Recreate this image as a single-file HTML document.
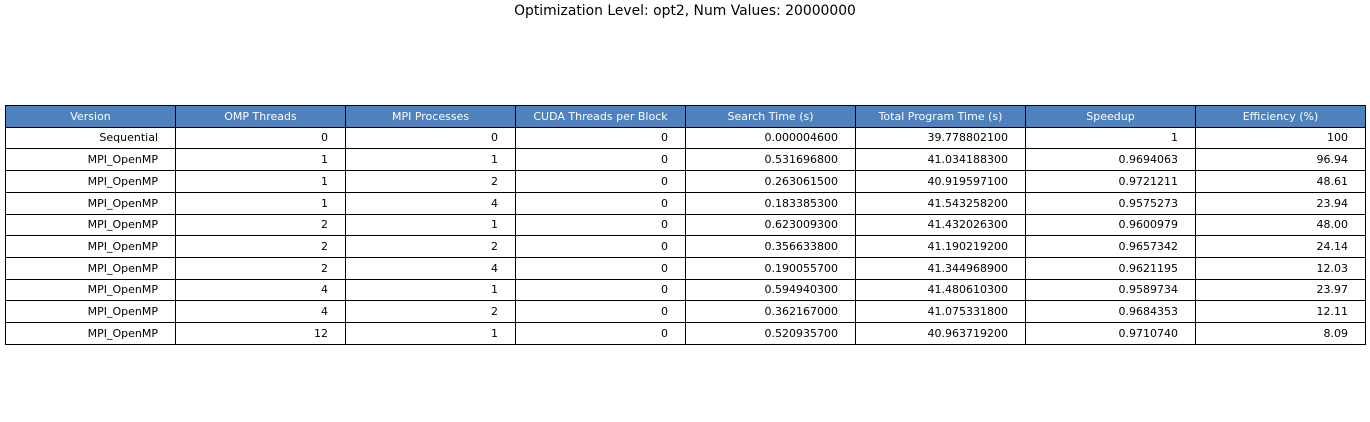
<!DOCTYPE html>
<html><head><meta charset="utf-8"><style>
body{margin:0;width:1370px;height:422px;background:#fff;font-family:"DejaVu Sans","Liberation Sans",sans-serif;position:relative;overflow:hidden}
#title{position:absolute;left:0;width:1370px;top:3px;text-align:center;font-size:13.9px;color:#000}
.c{position:absolute;box-sizing:border-box;border:1px solid #000;font-size:11px;line-height:20px;white-space:nowrap;color:#000}
.h{background:#4f81bd;color:#fff;text-align:center}
.d{text-align:right;padding-right:17px}
</style></head><body>
<div id="title">Optimization Level: opt2, Num Values: 20000000</div>
<div id="tbl"></div>
<script>
const headers=["Version","OMP Threads","MPI Processes","CUDA Threads per Block","Search Time (s)","Total Program Time (s)","Speedup","Efficiency (%)"];
const versions=["Sequential","MPI_OpenMP","MPI_OpenMP","MPI_OpenMP","MPI_OpenMP","MPI_OpenMP","MPI_OpenMP","MPI_OpenMP","MPI_OpenMP","MPI_OpenMP"];
const ompThreads=["0","1","1","1","2","2","2","4","4","12"];
const mpiProcs=["0","1","2","4","1","2","4","1","2","1"];
const cudaThreads=["0","0","0","0","0","0","0","0","0","0"];
const searchTimes=["0.000004600","0.531696800","0.263061500","0.183385300","0.623009300","0.356633800","0.190055700","0.594940300","0.362167000","0.520935700"];
const totalTimes=["39.778802100","41.034188300","40.919597100","41.543258200","41.432026300","41.190219200","41.344968900","41.480610300","41.075331800","40.963719200"];
const speedups=["1","0.9694063","0.9721211","0.9575273","0.9600979","0.9657342","0.9621195","0.9589734","0.9684353","0.9710740"];
const efficiencies=["100","96.94","48.61","23.94","48.00","24.14","12.03","23.97","12.11","8.09"];
const cols=[versions,ompThreads,mpiProcs,cudaThreads,searchTimes,totalTimes,speedups,efficiencies];
const tbl=document.getElementById('tbl');
const x0=5,cw=170,y0=105,rh=21.7;
function cell(txt,ci,ri,cls,name){
  const d=document.createElement('div');
  d.className='c '+cls;
  
  
  const top=Math.round(y0+ri*rh), bot=Math.round(y0+(ri+1)*rh);
  d.style.left=(x0+ci*cw)+'px';d.style.top=top+'px';
  d.style.width=(cw+1)+'px';d.style.height=(bot-top+1)+'px';
  d.style.lineHeight=(bot-top-1)+'px';
  d.textContent=txt;tbl.appendChild(d);
}
headers.forEach((h,i)=>cell(h,i,0,'h','header-cell'));
for(let r=0;r<versions.length;r++)cols.forEach((c,i)=>cell(c[r],i,r+1,'d','data-cell'));
</script>
</body></html>
